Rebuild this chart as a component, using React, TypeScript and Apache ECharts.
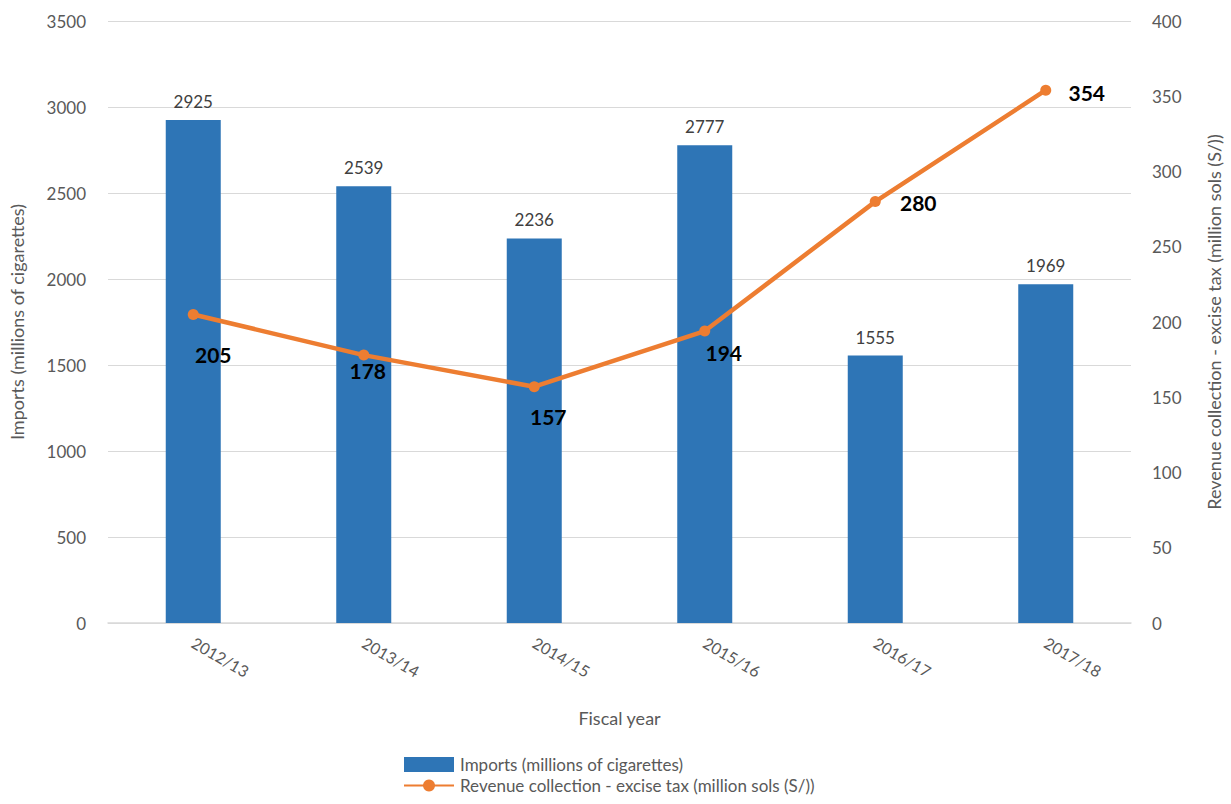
import React, { useEffect, useRef } from "react";
import * as echarts from "echarts";

const categories = ["2012/13", "2013/14", "2014/15", "2015/16", "2016/17", "2017/18"];
const imports = [2925, 2539, 2236, 2777, 1555, 1969];
const revenue = [205, 178, 157, 194, 280, 354];
const revenueLabelOffsets = [[20, 40], [4, 15], [14, 30], [19, 21], [43, 1], [41, 2]];

const FONT = "Lato, 'Open Sans', sans-serif";

export default function App() {
  const ref = useRef<HTMLDivElement>(null);
  useEffect(() => {
    if (!ref.current) return;
    const chart = echarts.init(ref.current, null, { renderer: "svg" });
    chart.setOption({
      animation: false,
      textStyle: { fontFamily: FONT },
      grid: { left: 108, right: 93, top: 21, bottom: 181, containLabel: false },
      legend: {
        orient: "vertical",
        left: 403,
        top: 756,
        padding: 0,
        itemGap: 4,
        itemWidth: 50,
        itemHeight: 15,
        textStyle: { fontSize: 17, color: "#595959", fontFamily: FONT, padding: [0, 0, 0, 1] },
        data: [
          { name: "Imports (millions of cigarettes)", icon: "rect" },
          { name: "Revenue collection - excise tax (million sols (S/))" },
        ],
      },
      xAxis: {
        type: "category",
        data: categories,
        name: "Fiscal year",
        nameLocation: "middle",
        nameGap: 86,
        nameTextStyle: { fontSize: 18, color: "#595959" },
        axisLine: { lineStyle: { color: "#D9D9D9", width: 1.5 } },
        axisTick: { show: false },
        axisLabel: { rotate: -30, margin: 18, fontSize: 16, color: "#595959" },
      },
      yAxis: [
        {
          type: "value",
          min: 0,
          max: 3500,
          interval: 500,
          name: "Imports (millions of cigarettes)",
          nameLocation: "middle",
          nameGap: 82,
          nameTextStyle: { fontSize: 18, color: "#595959" },
          axisLine: { show: false },
          axisTick: { show: false },
          axisLabel: { fontSize: 17, color: "#595959", margin: 22, formatter: (v: number) => String(v) },
          splitLine: { lineStyle: { color: "#D9D9D9", width: 1 } },
        },
        {
          type: "value",
          min: 0,
          max: 400,
          interval: 50,
          name: "Revenue collection - excise tax (million sols (S/))",
          nameLocation: "middle",
          nameGap: 74,
          nameTextStyle: { fontSize: 18, color: "#595959" },
          axisLine: { show: false },
          axisTick: { show: false },
          axisLabel: { fontSize: 17, color: "#595959", margin: 21, formatter: (v: number) => String(v) },
          splitLine: { show: false },
        },
      ],
      series: [
        {
          name: "Imports (millions of cigarettes)",
          type: "bar",
          data: imports,
          barWidth: 55,
          itemStyle: { color: "#2E75B6" },
          label: { show: true, position: "top", distance: 10, fontSize: 17, color: "#404040" },
        },
        {
          name: "Revenue collection - excise tax (million sols (S/))",
          type: "line",
          yAxisIndex: 1,
          data: revenue.map((v, i) => ({
            value: v,
            label: { offset: revenueLabelOffsets[i] },
          })),
          symbol: "circle",
          symbolSize: 11,
          lineStyle: { color: "#ED7D31", width: 4.5 },
          itemStyle: { color: "#ED7D31" },
          label: {
            show: true,
            position: "inside",
            fontSize: 21,
            fontWeight: "bold",
            color: "#000000",
          },
        },
      ],
    });
    return () => chart.dispose();
  }, []);
  return (
    <div
      ref={ref}
      style={{ position: "absolute", left: 0, top: 0, width: 1231, height: 804 }}
    />
  );
}
